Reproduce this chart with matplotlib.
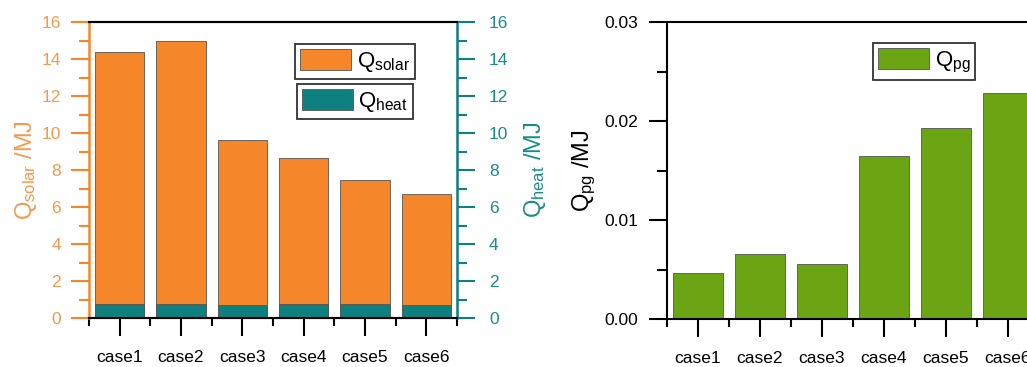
import matplotlib.pyplot as plt
import matplotlib.patches as mpatches
import numpy as np

plt.rcParams['font.family'] = ['Liberation Sans', 'DejaVu Sans']
plt.rcParams['mathtext.default'] = 'regular'

cases = ['case1', 'case2', 'case3', 'case4', 'case5', 'case6']
q_solar = [14.4, 15.0, 9.6, 8.65, 7.45, 6.7]
q_heat = [0.76, 0.77, 0.70, 0.75, 0.74, 0.72]
q_pg = [0.00465, 0.00657, 0.00556, 0.01646, 0.0193, 0.02283]

ORANGE = '#F5862A'
ORANGE_TXT = '#F39A4E'
TEAL = '#0E8080'
TEAL_TXT = '#188B8B'
GREEN = '#6BA514'
EDGE = '#555555'

x = np.arange(1, len(cases) + 1)

fig = plt.figure(figsize=(10.27, 3.67), dpi=100)


def style_x(ax):
    ax.set_xlim(0.5, len(cases) + 0.5)
    ax.set_xticks(x)
    ax.set_xticklabels(cases, fontsize=12.5)
    ax.set_xticks(np.arange(0.5, len(cases) + 1, 1), minor=True)
    ax.tick_params(axis='x', which='major', direction='out', length=13,
                   width=1.5, pad=10, colors='black')
    ax.tick_params(axis='x', which='minor', direction='out', length=6,
                   width=1.5)
    ax.spines['bottom'].set_linewidth(1.5)
    ax.spines['top'].set_linewidth(1.5)


def box_legend(ax, handle, label, anchor):
    leg = ax.legend([handle], [label], loc='upper left', bbox_to_anchor=anchor,
                    fontsize=16, frameon=True, fancybox=False,
                    edgecolor='#333333', framealpha=1, borderpad=0.22,
                    handlelength=2.3, handleheight=1.1, handletextpad=0.25,
                    borderaxespad=0)
    leg.get_frame().set_linewidth(1.3)
    return leg


# left panel
ax1 = fig.add_axes([89 / 1027, 49 / 367, 368 / 1027, 296 / 367])
ax1.bar(x, q_solar, width=0.8, color=ORANGE, edgecolor=EDGE, linewidth=0.6)
ax1.set_ylim(0, 16)
ax1.set_yticks(np.arange(0, 17, 2))
ax1.set_yticks(np.arange(1, 16, 2), minor=True)
ax1.tick_params(axis='y', which='major', direction='out', length=13,
                width=1.5, pad=7, colors=ORANGE, labelcolor=ORANGE_TXT,
                labelsize=12.5)
ax1.tick_params(axis='y', which='minor', direction='out', length=7,
                width=1.5, colors=ORANGE)
ax1.spines['left'].set_color(ORANGE)
ax1.spines['left'].set_linewidth(1.8)
ax1.set_ylabel('Q$_{solar}$ /MJ', fontsize=17, color=ORANGE_TXT, labelpad=2)
style_x(ax1)

ax2 = ax1.twinx()
ax2.bar(x, q_heat, width=0.8, color=TEAL, edgecolor=EDGE, linewidth=0.6)
ax2.set_ylim(0, 16)
ax2.set_yticks(np.arange(0, 17, 2))
ax2.set_yticks(np.arange(1, 16, 2), minor=True)
ax2.tick_params(axis='y', which='major', direction='out', length=13,
                width=1.5, pad=10, colors=TEAL, labelcolor=TEAL_TXT,
                labelsize=12.5)
ax2.tick_params(axis='y', which='minor', direction='out', length=7,
                width=1.5, colors=TEAL)
ax2.spines['right'].set_color(TEAL)
ax2.spines['right'].set_linewidth(1.8)
ax2.spines['left'].set_visible(False)
ax2.spines['top'].set_linewidth(1.5)
ax2.spines['bottom'].set_linewidth(1.5)
ax2.set_ylabel('Q$_{heat}$ /MJ', fontsize=17, color=TEAL_TXT, labelpad=10)

h_solar = mpatches.Patch(facecolor=ORANGE, edgecolor=EDGE, linewidth=0.6)
h_heat = mpatches.Patch(facecolor=TEAL, edgecolor=EDGE, linewidth=0.6)
leg1 = box_legend(ax2, h_solar, 'Q$_{solar}$', (0.56, 0.926))
ax2.add_artist(leg1)
box_legend(ax2, h_heat, 'Q$_{heat}$', (0.565, 0.79))

# right panel
ax3 = fig.add_axes([667 / 1027, 48 / 367, 372 / 1027, 297 / 367])
ax3.bar(x, q_pg, width=0.8, color=GREEN, edgecolor=EDGE, linewidth=0.6)
ax3.set_ylim(0, 0.03)
ax3.set_yticks([0, 0.01, 0.02, 0.03])
ax3.set_yticklabels(['0.00', '0.01', '0.02', '0.03'])
ax3.set_yticks([0.005, 0.015, 0.025], minor=True)
ax3.tick_params(axis='y', which='major', direction='out', length=13,
                width=1.5, pad=8, labelsize=12.5)
ax3.tick_params(axis='y', which='minor', direction='out', length=7,
                width=1.5)
ax3.spines['left'].set_linewidth(1.5)
ax3.spines['right'].set_linewidth(1.5)
ax3.set_ylabel('Q$_{pg}$ /MJ', fontsize=17, labelpad=4)
style_x(ax3)

h_pg = mpatches.Patch(facecolor=GREEN, edgecolor=EDGE, linewidth=0.6)
box_legend(ax3, h_pg, 'Q$_{pg}$', (0.554, 0.929))

fig.savefig('out.png', dpi=100)
